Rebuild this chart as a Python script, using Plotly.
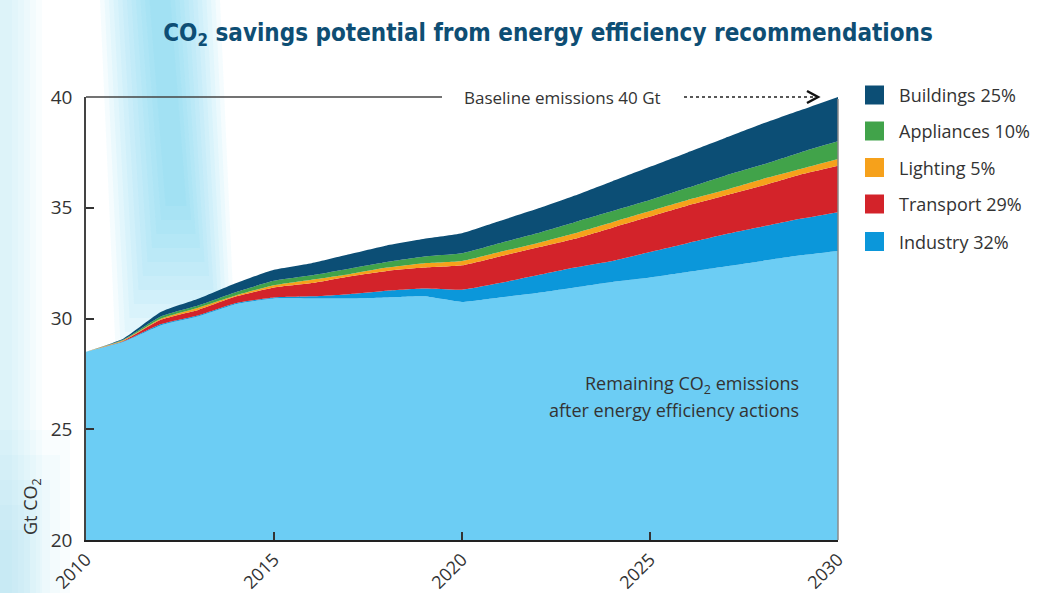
import plotly.graph_objects as go

# ---------------- data ----------------
years = list(range(2010, 2031))

# top boundary of each stacked layer (Gt CO2)
remaining_top = [28.5, 28.95, 29.7, 30.1, 30.65, 30.9, 30.9, 30.9, 30.95, 31.0, 30.75,
                 30.95, 31.15, 31.4, 31.65, 31.85, 32.1, 32.35, 32.6, 32.85, 33.05]
industry_top = [28.5, 28.97, 29.75, 30.15, 30.7, 30.95, 31.0, 31.1, 31.25, 31.35, 31.3,
                31.6, 31.95, 32.3, 32.6, 33.0, 33.4, 33.8, 34.15, 34.5, 34.8]
transport_top = [28.5, 29.0, 29.95, 30.4, 31.0, 31.4, 31.6, 31.9, 32.15, 32.3, 32.4,
                 32.8, 33.2, 33.6, 34.1, 34.6, 35.1, 35.55, 36.0, 36.5, 36.9]
lighting_top = [28.5, 29.03, 30.0, 30.5, 31.05, 31.5, 31.75, 32.0, 32.3, 32.5, 32.6,
                33.0, 33.4, 33.85, 34.35, 34.85, 35.35, 35.8, 36.3, 36.75, 37.2]
appliances_top = [28.5, 29.05, 30.1, 30.6, 31.2, 31.7, 31.95, 32.25, 32.55, 32.8, 32.95,
                  33.4, 33.85, 34.35, 34.85, 35.35, 35.9, 36.45, 36.95, 37.5, 38.0]
buildings_top = [28.5, 29.1, 30.3, 30.9, 31.6, 32.2, 32.5, 32.9, 33.3, 33.6, 33.85,
                 34.4, 34.95, 35.55, 36.2, 36.85, 37.5, 38.15, 38.8, 39.4, 40.0]

legend_labels = ["Buildings 25%", "Appliances 10%", "Lighting 5%", "Transport 29%", "Industry 32%"]
y_ticks = [20, 25, 30, 35, 40]
x_ticks = [2010, 2015, 2020, 2025, 2030]

# ---------------- styles ----------------
C_REMAIN = "#6ccdf4"
C_IND = "#0b97da"
C_TRANS = "#d3232a"
C_LIGHT = "#f6a11b"
C_APPL = "#41a34a"
C_BUILD = "#0c4e75"
TXT = "#333333"
FONT = "Open Sans"

W, H = 1064, 593
L, R, T, B = 86, 838, 97, 540


def px(x):
    return (x - L) / (R - L)


def py(y):
    return (B - y) / (B - T)


fig = go.Figure()

layers = [
    ("Remaining", remaining_top, C_REMAIN, "tozeroy"),
    ("Industry", industry_top, C_IND, "tonexty"),
    ("Transport", transport_top, C_TRANS, "tonexty"),
    ("Lighting", lighting_top, C_LIGHT, "tonexty"),
    ("Appliances", appliances_top, C_APPL, "tonexty"),
    ("Buildings", buildings_top, C_BUILD, "tonexty"),
]
for name, vals, col, fill in layers:
    fig.add_trace(go.Scatter(
        x=years, y=vals, name=name, mode="lines",
        line=dict(width=0, color=col, shape="spline", smoothing=0.5),
        fill=fill, fillcolor=col, showlegend=False, hoverinfo="skip"))

shapes = []
# decorative background streak (blurred light-blue band), built from thin translucent layers
N = 12
for i in range(N):
    half = 60 - i * 4.5
    cx_top, cx_bot = 160, 176
    y1 = 360 - i * 14
    shapes.append(dict(type="path", xref="paper", yref="paper", layer="below",
                       path=(f"M {px(cx_top - half)},{py(0)} L {px(cx_top + half)},{py(0)} "
                             f"L {px(cx_bot + half)},{py(y1)} L {px(cx_bot - half)},{py(y1)} Z"),
                       fillcolor="#4fc3ee", opacity=0.055, line=dict(width=0)))
# faint glow along the left edge
for i in range(6):
    shapes.append(dict(type="rect", xref="paper", yref="paper", layer="below",
                       x0=px(0), x1=px(42 - i * 6), y0=py(H), y1=py(0),
                       fillcolor="#8fd6f2", opacity=0.05, line=dict(width=0)))
for i in range(5):
    shapes.append(dict(type="rect", xref="paper", yref="paper", layer="below",
                       x0=px(0), x1=px(70 - i * 10), y0=py(H), y1=py(430 + i * 25),
                       fillcolor="#8fd6f2", opacity=0.05, line=dict(width=0)))

# baseline line at 40 (solid part) and dotted arrow
shapes.append(dict(type="line", xref="paper", yref="paper", x0=0, x1=px(442), y0=1, y1=1,
                   line=dict(color="#444444", width=1.5)))
shapes.append(dict(type="line", xref="paper", yref="paper", x0=px(684), x1=px(814), y0=1, y1=1,
                   line=dict(color="#222222", width=1.5, dash="dot")))
shapes.append(dict(type="path", xref="paper", yref="paper",
                   path=f"M {px(807)},{py(91)} L {px(818)},{py(97)} L {px(807)},{py(103)}",
                   line=dict(color="#111111", width=2.5)))
# right edge of plot
shapes.append(dict(type="line", xref="paper", yref="paper", x0=1, x1=1, y0=0, y1=py(99),
                   line=dict(color="#8a8a8a", width=1.5)))

# custom legend
leg_cols = [C_BUILD, C_APPL, C_LIGHT, C_TRANS, C_IND]
leg_y = [95, 131, 167.5, 204, 241.5]
annotations = []
for lab, col, yc in zip(legend_labels, leg_cols, leg_y):
    shapes.append(dict(type="rect", xref="paper", yref="paper",
                       x0=px(865), x1=px(884), y0=py(yc + 9.5), y1=py(yc - 9.5),
                       fillcolor=col, line=dict(width=0)))
    annotations.append(dict(xref="paper", yref="paper", x=px(897), y=py(yc), text=lab,
                            showarrow=False, xanchor="left", yanchor="middle",
                            font=dict(family=FONT, size=18, color=TXT)))

annotations += [
    dict(xref="paper", yref="paper", x=px(562), y=py(97), text="Baseline emissions 40 Gt",
         showarrow=False, xanchor="center", yanchor="middle",
         font=dict(family=FONT, size=17, color=TXT)),
    dict(xref="paper", yref="paper", x=px(801), y=py(384),
         text="Remaining CO<sub>2</sub> emissions",
         showarrow=False, xanchor="right", yanchor="middle", align="right",
         font=dict(family=FONT, size=18, color=TXT)),
    dict(xref="paper", yref="paper", x=px(801), y=py(410),
         text="after energy efficiency actions",
         showarrow=False, xanchor="right", yanchor="middle", align="right",
         font=dict(family=FONT, size=18, color=TXT)),
    dict(xref="paper", yref="paper", x=px(31), y=py(507), text="Gt CO<sub>2</sub>",
         showarrow=False, textangle=-90, xanchor="center", yanchor="middle",
         font=dict(family=FONT, size=18, color=TXT)),
]

fig.update_layout(
    width=W, height=H,
    margin=dict(l=L, r=W - R, t=T, b=H - B, pad=0),
    paper_bgcolor="white", plot_bgcolor="rgba(0,0,0,0)",
    title=dict(text="CO<sub>2</sub> savings potential from energy efficiency recommendations",
               x=548 / W, y=1 - 33 / H, xanchor="center", yanchor="middle",
               font=dict(family="DejaVu Sans Condensed", size=24, color="#0e4e74", weight="bold")),
    shapes=shapes, annotations=annotations, showlegend=False,
    xaxis=dict(range=[2010, 2030], tickvals=x_ticks, ticktext=[str(v) for v in x_ticks],
               tickangle=-45, ticks="inside", ticklen=8, tickcolor="#333", tickwidth=1.5,
               showline=True, linecolor="#222", linewidth=2, showgrid=False, zeroline=False,
               automargin=False, tickfont=dict(family=FONT, size=18, color=TXT)),
    yaxis=dict(range=[20, 40], tickvals=y_ticks, ticks="inside", ticklen=8, tickcolor="#333",
               tickwidth=1.5, showline=True, linecolor="#444", linewidth=1.5, showgrid=False,
               zeroline=False, ticklabelstandoff=8, automargin=False,
               tickfont=dict(family=FONT, size=19, color=TXT)),
)

fig.write_html("out.html")
